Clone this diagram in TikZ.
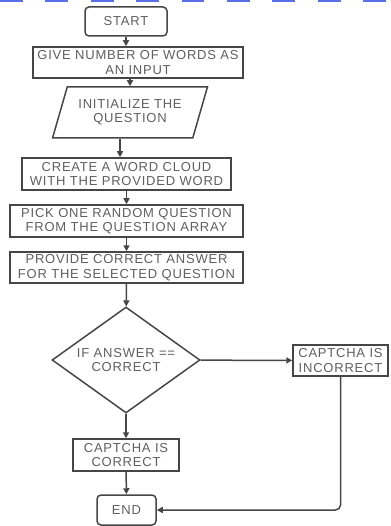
\documentclass[tikz,border=0pt]{standalone}
\usepackage{fontspec}
\setmainfont{Liberation Sans}[LetterSpace=6]
\usetikzlibrary{arrows.meta,positioning,shapes.geometric}
\definecolor{linkblue}{RGB}{90,110,230}
\definecolor{inkgray}{RGB}{70,70,70}
\definecolor{textgray}{RGB}{95,95,95}

\begin{document}
\begin{tikzpicture}[x=1pt, y=-1pt,
    block/.style={rectangle, draw=inkgray, line width=1.5pt, align=center, inner sep=0pt, font=\fontsize{13}{14.5}\selectfont, text=textgray},
    term/.style={block, rounded corners=4pt},
    io/.style={block, trapezium, trapezium left angle=65, trapezium right angle=115, trapezium stretches=true},
    decision/.style={block, diamond},
    arrow/.style={-{Triangle[length=6pt,width=6pt]}, line width=1.5pt, draw=inkgray}
  ]
    \useasboundingbox (0,0) rectangle (390,526);
    \draw[linkblue, line width=2pt, dash pattern=on 22.7pt off 22.7pt] (0,1.5) -- (390,1.5);
    \node[term, minimum width=82pt, minimum height=29pt] (start) at (126,21.5) {START};
    \node[block, minimum width=210pt, minimum height=31pt] (input) at (138,62.5) {GIVE NUMBER OF WORDS AS\\AN INPUT};
    \node[io, minimum width=155pt, minimum height=51pt] (init) at (130,112.5) {INITIALIZE THE\\QUESTION};
    \node[block, minimum width=209pt, minimum height=32pt] (cloud) at (126.5,174) {CREATE A WORD CLOUD\\WITH THE PROVIDED WORD};
    \node[block, minimum width=233pt, minimum height=32pt] (pick) at (126.5,221) {PICK ONE RANDOM QUESTION\\FROM THE QUESTION ARRAY};
    \node[block, minimum width=233pt, minimum height=31pt] (answer) at (126.5,267.5) {PROVIDE CORRECT ANSWER\\FOR THE SELECTED QUESTION};
    \node[decision, minimum width=148pt, minimum height=106pt, aspect=1.4] (check) at (126,360) {IF ANSWER ==\\CORRECT};
    \node[block, minimum width=95pt, minimum height=31pt] (wrong) at (340.5,360.5) {CAPTCHA IS\\INCORRECT};
    \node[block, minimum width=106pt, minimum height=32pt] (right) at (126,455) {CAPTCHA IS\\CORRECT};
    \node[term, minimum width=59pt, minimum height=30pt] (stop) at (126.5,510) {END};
    \draw[arrow] (start.south) -- (start.south |- input.north);
    \draw[arrow] (init.north |- input.south) -- (init.north);
    \draw[arrow] ([xshift=-10pt]init.south) -- ([xshift=-10pt]init.south |- cloud.north);
    \draw[arrow] (cloud) -- (pick);
    \draw[arrow] (pick) -- (answer);
    \draw[arrow] (answer) -- (check);
    \draw[arrow] (check) -- (wrong);
    \draw[arrow] (check) -- (right);
    \draw[arrow] (right) -- (stop);
    \draw[arrow, rounded corners=5pt] (wrong.south) -- (wrong.south |- stop.east) -- (stop.east);
\end{tikzpicture}
\end{document}
